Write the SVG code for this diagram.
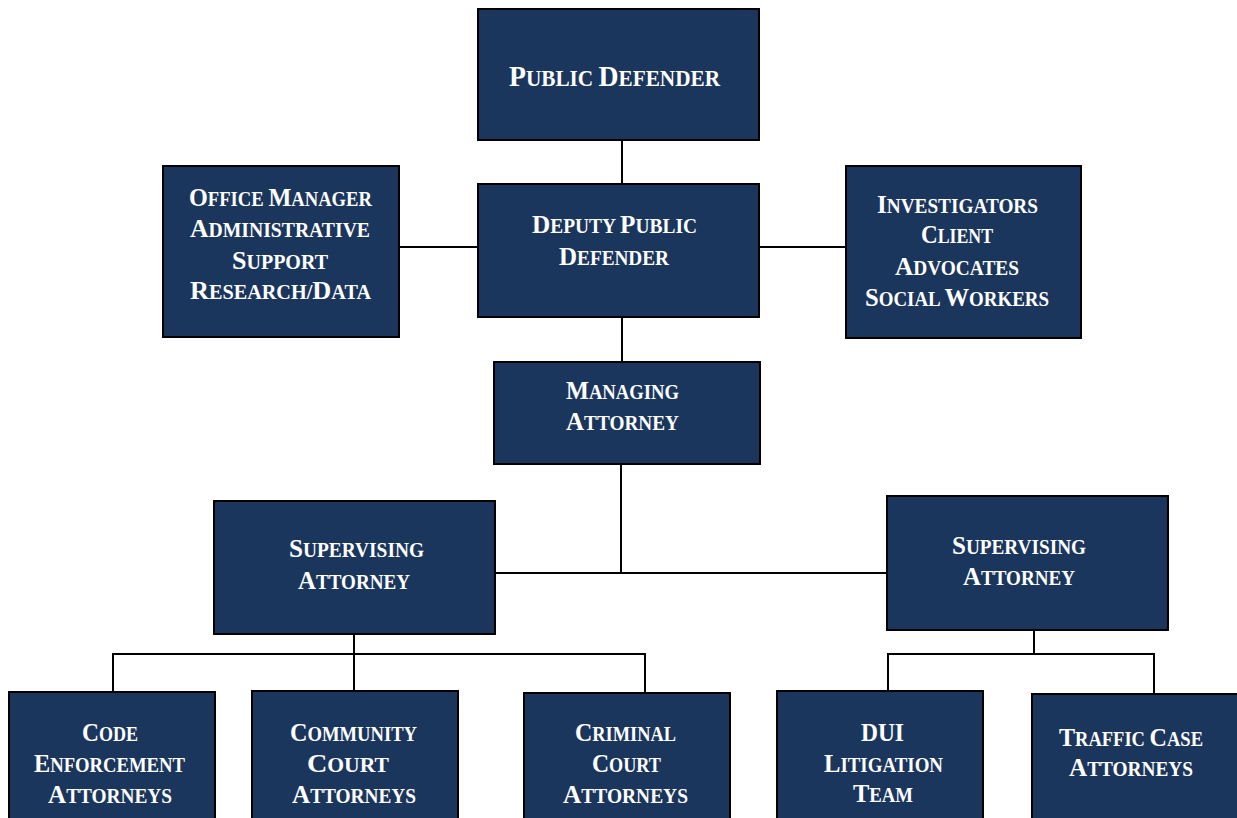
<svg xmlns="http://www.w3.org/2000/svg" width="1237" height="818" viewBox="0 0 1237 818">
<style>
.box{fill:#1b365d;stroke:#000;stroke-width:2}
.t{font-family:"Liberation Serif","Times New Roman",serif;font-weight:bold;fill:#fff;font-size:20px;text-anchor:middle}
.c{font-size:26px}
.big{font-size:23px}
.big .c{font-size:30px}
.conn{fill:none;stroke:#000;stroke-width:2}
</style>
<rect width="1237" height="818" fill="#fff"/>
<g id="connectors" class="conn">
<path d="M622,140V184"/>
<path d="M399,247H478"/>
<path d="M759,247H846"/>
<path d="M622,317V362"/>
<path d="M621,464V573"/>
<path d="M495,573H887"/>
<path d="M354,634V654"/>
<path d="M113,692V654H645V693"/>
<path d="M354,654V691"/>
<path d="M1034,630V654"/>
<path d="M888,691V654H1154V694"/>
</g>
<g id="public-defender">
<rect class="box" x="478" y="9" width="281" height="131"/>
<text class="t big" x="614.5" y="86" textLength="211" lengthAdjust="spacingAndGlyphs"><tspan class="c">P</tspan>UBLIC <tspan class="c">D</tspan>EFENDER</text>
</g>
<g id="deputy-public-defender">
<rect class="box" x="478" y="184" width="281" height="133"/>
<text class="t" x="614.5" y="233" textLength="165" lengthAdjust="spacingAndGlyphs"><tspan class="c">D</tspan>EPUTY <tspan class="c">P</tspan>UBLIC</text>
<text class="t" x="614" y="265" textLength="110" lengthAdjust="spacingAndGlyphs"><tspan class="c">D</tspan>EFENDER</text>
</g>
<g id="office-manager">
<rect class="box" x="163" y="166" width="236" height="171"/>
<text class="t" x="280.5" y="206" textLength="183" lengthAdjust="spacingAndGlyphs"><tspan class="c">O</tspan>FFICE <tspan class="c">M</tspan>ANAGER</text>
<text class="t" x="280" y="237" textLength="180" lengthAdjust="spacingAndGlyphs"><tspan class="c">A</tspan>DMINISTRATIVE</text>
<text class="t" x="280" y="269" textLength="96" lengthAdjust="spacingAndGlyphs"><tspan class="c">S</tspan>UPPORT</text>
<text class="t" x="280.5" y="299" textLength="181" lengthAdjust="spacingAndGlyphs"><tspan class="c">R</tspan>ESEARCH/<tspan class="c">D</tspan>ATA</text>
</g>
<g id="investigators">
<rect class="box" x="846" y="166" width="235" height="172"/>
<text class="t" x="957.5" y="213" textLength="161" lengthAdjust="spacingAndGlyphs"><tspan class="c">I</tspan>NVESTIGATORS</text>
<text class="t" x="957" y="243" textLength="72" lengthAdjust="spacingAndGlyphs"><tspan class="c">C</tspan>LIENT</text>
<text class="t" x="957" y="275" textLength="124" lengthAdjust="spacingAndGlyphs"><tspan class="c">A</tspan>DVOCATES</text>
<text class="t" x="957" y="306" textLength="184" lengthAdjust="spacingAndGlyphs"><tspan class="c">S</tspan>OCIAL <tspan class="c">W</tspan>ORKERS</text>
</g>
<g id="managing-attorney">
<rect class="box" x="494" y="362" width="266" height="102"/>
<text class="t" x="622.5" y="399" textLength="113" lengthAdjust="spacingAndGlyphs"><tspan class="c">M</tspan>ANAGING</text>
<text class="t" x="622.5" y="430" textLength="113" lengthAdjust="spacingAndGlyphs"><tspan class="c">A</tspan>TTORNEY</text>
</g>
<g id="supervising-left">
<rect class="box" x="214" y="501" width="281" height="133"/>
<text class="t" x="356.5" y="557" textLength="135" lengthAdjust="spacingAndGlyphs"><tspan class="c">S</tspan>UPERVISING</text>
<text class="t" x="354" y="589" textLength="112" lengthAdjust="spacingAndGlyphs"><tspan class="c">A</tspan>TTORNEY</text>
</g>
<g id="supervising-right">
<rect class="box" x="887" y="496" width="281" height="134"/>
<text class="t" x="1019" y="554" textLength="134" lengthAdjust="spacingAndGlyphs"><tspan class="c">S</tspan>UPERVISING</text>
<text class="t" x="1019" y="585" textLength="112" lengthAdjust="spacingAndGlyphs"><tspan class="c">A</tspan>TTORNEY</text>
</g>
<g id="code-enforcement">
<rect class="box" x="9" y="692" width="206" height="140"/>
<text class="t" x="110" y="741" textLength="56" lengthAdjust="spacingAndGlyphs"><tspan class="c">C</tspan>ODE</text>
<text class="t" x="109.5" y="772" textLength="151" lengthAdjust="spacingAndGlyphs"><tspan class="c">E</tspan>NFORCEMENT</text>
<text class="t" x="110" y="803" textLength="124" lengthAdjust="spacingAndGlyphs"><tspan class="c">A</tspan>TTORNEYS</text>
</g>
<g id="community-court">
<rect class="box" x="252" y="691" width="206" height="140"/>
<text class="t" x="353.5" y="741" textLength="127" lengthAdjust="spacingAndGlyphs"><tspan class="c">C</tspan>OMMUNITY</text>
<text class="t" x="348" y="772" textLength="82" lengthAdjust="spacingAndGlyphs"><tspan class="c">C</tspan>OURT</text>
<text class="t" x="354" y="803" textLength="124" lengthAdjust="spacingAndGlyphs"><tspan class="c">A</tspan>TTORNEYS</text>
</g>
<g id="criminal-court">
<rect class="box" x="524" y="693" width="206" height="140"/>
<text class="t" x="625.5" y="741" textLength="101" lengthAdjust="spacingAndGlyphs"><tspan class="c">C</tspan>RIMINAL</text>
<text class="t" x="626.5" y="772" textLength="69" lengthAdjust="spacingAndGlyphs"><tspan class="c">C</tspan>OURT</text>
<text class="t" x="625.5" y="803" textLength="125" lengthAdjust="spacingAndGlyphs"><tspan class="c">A</tspan>TTORNEYS</text>
</g>
<g id="dui-litigation">
<rect class="box" x="777" y="691" width="206" height="140"/>
<text class="t c" x="882.5" y="741" textLength="43" lengthAdjust="spacingAndGlyphs">DUI</text>
<text class="t" x="883.5" y="772" textLength="119" lengthAdjust="spacingAndGlyphs"><tspan class="c">L</tspan>ITIGATION</text>
<text class="t" x="883" y="802" textLength="60" lengthAdjust="spacingAndGlyphs"><tspan class="c">T</tspan>EAM</text>
</g>
<g id="traffic-case">
<rect class="box" x="1032" y="694" width="220" height="140"/>
<text class="t" x="1131" y="746" textLength="144" lengthAdjust="spacingAndGlyphs"><tspan class="c">T</tspan>RAFFIC <tspan class="c">C</tspan>ASE</text>
<text class="t" x="1131" y="776" textLength="124" lengthAdjust="spacingAndGlyphs"><tspan class="c">A</tspan>TTORNEYS</text>
</g>
</svg>
